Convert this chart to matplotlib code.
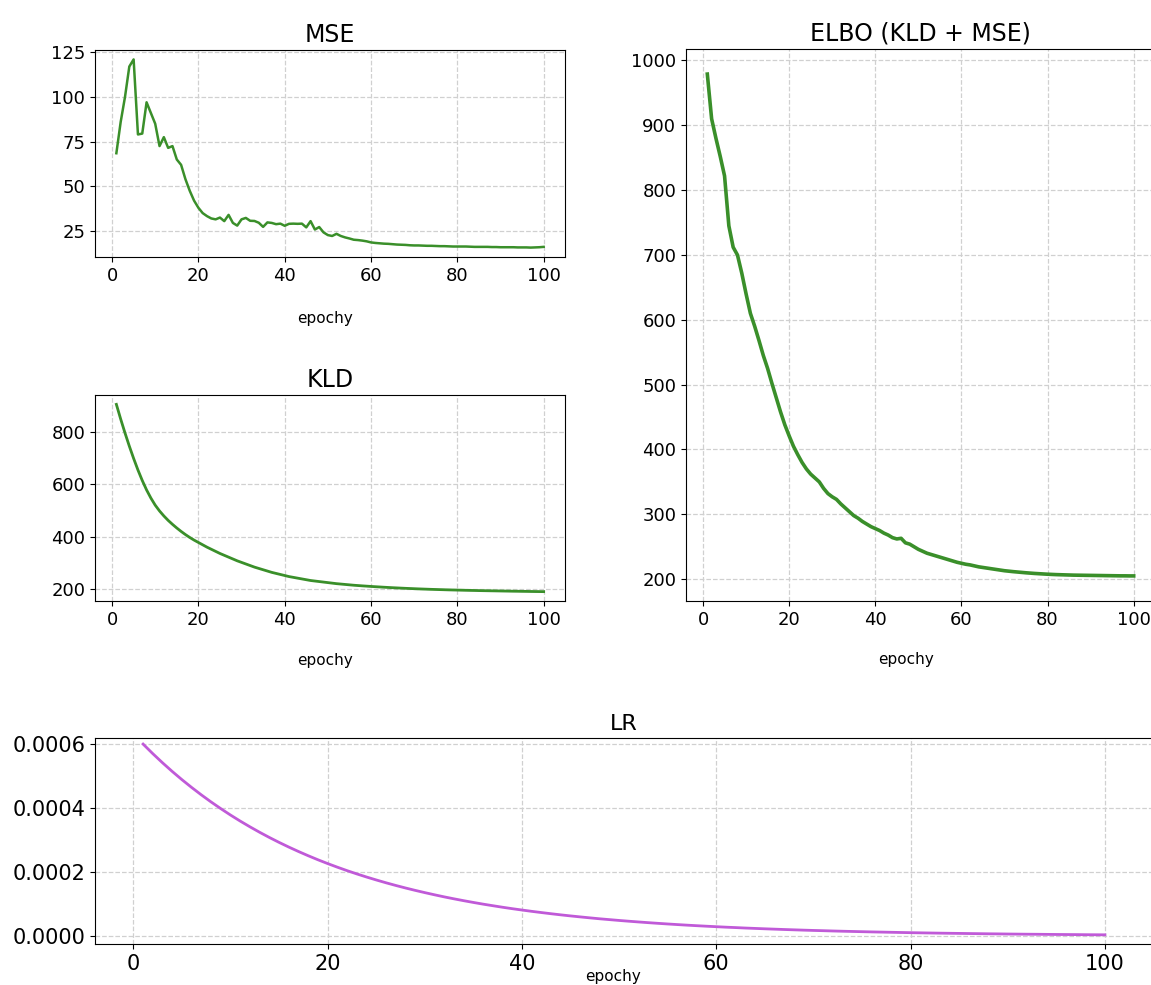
import matplotlib
matplotlib.use("Agg")
import matplotlib.pyplot as plt
from matplotlib.ticker import FormatStrFormatter

epochs = list(range(1, 101))

mse = [
    68.5, 86.0, 100.0, 117.0, 121.0, 79.0, 79.5, 97.0, 91.0, 85.0,
    72.5, 77.5, 71.5, 72.5, 65.0, 62.0, 54.0, 47.5, 42.0, 38.0,
    35.0, 33.3, 32.0, 31.5, 32.5, 30.5, 34.0, 29.5, 28.0, 31.5,
    32.3, 30.7, 30.6, 29.6, 27.3, 29.8, 29.5, 28.8, 29.1, 27.9,
    29.0, 29.1, 29.0, 29.1, 27.0, 30.5, 25.8, 27.2, 24.2, 22.7,
    22.2, 23.4, 22.2, 21.4, 20.8, 20.1, 19.9, 19.6, 19.2, 18.6,
    18.3, 18.1, 17.9, 17.8, 17.6, 17.4, 17.3, 17.2, 17.0, 16.9,
    16.9, 16.8, 16.7, 16.7, 16.6, 16.5, 16.5, 16.4, 16.3, 16.3,
    16.3, 16.3, 16.2, 16.1, 16.1, 16.1, 16.1, 16.0, 16.0, 15.9,
    15.9, 15.9, 15.9, 15.8, 15.8, 15.8, 15.7, 15.8, 15.9, 16.1,
]

kld = [
    904, 848, 795, 745, 698, 654, 614, 578, 547, 520,
    498, 479, 462, 447, 433, 420, 408, 397, 387, 378,
    369, 360, 352, 344, 336, 329, 322, 315, 308, 302,
    296, 290, 284, 279, 274, 269, 264, 260, 256, 252,
    248, 245, 242, 239, 236, 233, 231, 229, 227, 225,
    223, 221, 219.5, 218, 216.5, 215, 213.8, 212.6, 211.5, 210.4,
    209.4, 208.4, 207.4, 206.5, 205.6, 204.8, 204.0, 203.2, 202.5, 201.8,
    201.1, 200.5, 199.9, 199.3, 198.8, 198.3, 197.8, 197.3, 196.9, 196.5,
    196.1, 195.7, 195.3, 195.0, 194.6, 194.3, 194.0, 193.7, 193.4, 193.1,
    192.8, 192.5, 192.2, 192.0, 191.7, 191.5, 191.2, 191.0, 190.8, 190.6,
]

elbo = [
    979, 910, 880, 852, 822, 745, 712, 700, 672, 640,
    610, 590, 568, 545, 525, 502, 480, 458, 438, 421,
    405, 392, 380, 370, 362, 356, 350, 340, 332, 327,
    323, 316, 310, 304, 298, 294, 289, 285, 281, 278,
    275, 271, 268, 264, 262, 263, 256, 254, 250, 246,
    243, 240, 238, 236, 234, 232, 230, 228, 226, 224.5,
    223, 222, 220.5, 219, 218, 217, 216, 215, 214, 213,
    212.3, 211.6, 211.0, 210.4, 209.8, 209.3, 208.8, 208.4, 208.0, 207.6,
    207.3, 207.0, 206.8, 206.6, 206.4, 206.2, 206.1, 206.0, 205.9, 205.8,
    205.7, 205.6, 205.5, 205.4, 205.3, 205.2, 205.1, 205.1, 205.0, 205.0,
]

lr = [
    0.000600, 0.000570, 0.0005415, 0.0005144, 0.0004887, 0.0004643, 0.0004411, 0.0004190, 0.0003981, 0.0003781,
    0.0003592, 0.0003413, 0.0003242, 0.0003080, 0.0002926, 0.0002780, 0.0002641, 0.0002509, 0.0002383, 0.0002264,
    0.0002151, 0.0002043, 0.0001941, 0.0001844, 0.0001752, 0.0001664, 0.0001581, 0.0001502, 0.0001427, 0.0001356,
    0.0001288, 0.0001223, 0.0001162, 0.0001104, 0.0001049, 0.0000996, 0.0000947, 0.0000899, 0.0000854, 0.0000812,
    0.0000771, 0.0000733, 0.0000696, 0.0000661, 0.0000628, 0.0000597, 0.0000567, 0.0000538, 0.0000512, 0.0000486,
    0.0000462, 0.0000439, 0.0000417, 0.0000396, 0.0000376, 0.0000357, 0.0000339, 0.0000322, 0.0000306, 0.0000291,
    0.0000276, 0.0000263, 0.0000249, 0.0000237, 0.0000225, 0.0000214, 0.0000203, 0.0000193, 0.0000183, 0.0000174,
    0.0000166, 0.0000157, 0.0000149, 0.0000142, 0.0000135, 0.0000128, 0.0000122, 0.0000116, 0.0000110, 0.0000104,
    0.0000099, 0.0000094, 0.0000089, 0.0000085, 0.0000081, 0.0000077, 0.0000073, 0.0000069, 0.0000066, 0.0000062,
    0.0000059, 0.0000056, 0.0000054, 0.0000051, 0.0000048, 0.0000046, 0.0000044, 0.0000041, 0.0000039, 0.0000037,
]

GREEN = "#3a8f2a"
PURPLE = "#c05ad8"
W, H = 1151, 985


def box(left, top, right, bottom):
    return [left / W, 1 - bottom / H, (right - left) / W, (bottom - top) / H]


def style(ax, tick_size=13):
    ax.grid(True, linestyle="--", color="#d0d0d0", linewidth=0.9)
    ax.set_axisbelow(True)
    ax.tick_params(labelsize=tick_size)
    ax.set_xticks([0, 20, 40, 60, 80, 100])


fig = plt.figure(figsize=(W / 100, H / 100), dpi=100)

ax_mse = fig.add_axes(box(95, 50, 565, 257))
ax_mse.plot(epochs, mse, color=GREEN, linewidth=1.8)
style(ax_mse)
ax_mse.set_yticks([25, 50, 75, 100, 125])
ax_mse.set_title("MSE", fontsize=17)
ax_mse.set_xlabel("epochy", fontsize=11)
ax_mse.xaxis.set_label_coords(0.49, -0.26)

ax_kld = fig.add_axes(box(95, 395, 565, 601))
ax_kld.plot(epochs, kld, color=GREEN, linewidth=2.0)
style(ax_kld)
ax_kld.set_yticks([200, 400, 600, 800])
ax_kld.set_title("KLD", fontsize=17)
ax_kld.set_xlabel("epochy", fontsize=11)
ax_kld.xaxis.set_label_coords(0.49, -0.25)

ax_elbo = fig.add_axes(box(686, 49, 1155, 601))
ax_elbo.plot(epochs, elbo, color=GREEN, linewidth=2.6)
style(ax_elbo)
ax_elbo.set_yticks([200, 300, 400, 500, 600, 700, 800, 900, 1000])
ax_elbo.set_title("ELBO (KLD + MSE)", fontsize=17)
ax_elbo.set_xlabel("epochy", fontsize=11)
ax_elbo.xaxis.set_label_coords(0.47, -0.092)

ax_lr = fig.add_axes(box(95, 738, 1153, 944))
ax_lr.plot(epochs, lr, color=PURPLE, linewidth=2.0)
style(ax_lr, tick_size=15)
ax_lr.set_ylim(-0.000025, 0.000619)
ax_lr.set_yticks([0, 0.0002, 0.0004, 0.0006])
ax_lr.yaxis.set_major_formatter(FormatStrFormatter("%.4f"))
ax_lr.set_title("LR", fontsize=16)
ax_lr.set_xlabel("epochy", fontsize=11)
ax_lr.xaxis.set_label_coords(0.49, -0.12)

fig.savefig("out.png", dpi=100)
plt.close(fig)
